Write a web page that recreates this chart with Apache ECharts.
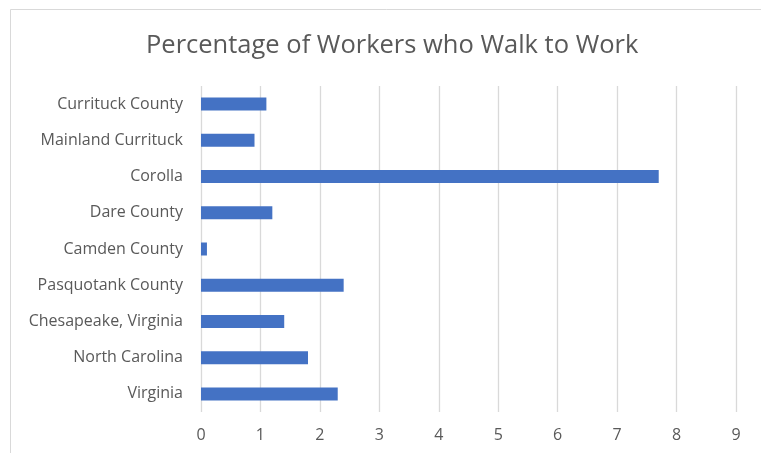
<!DOCTYPE html>
<html><head><meta charset="utf-8">
<script src="https://cdn.jsdelivr.net/npm/echarts@6/dist/echarts.min.js"></script>
<style>html,body{margin:0;padding:0;background:#fff}#c{width:761px;height:453px}</style>
</head><body><div id="c"></div>
<script>
const categories = ["Currituck County","Mainland Currituck","Corolla","Dare County","Camden County","Pasquotank County","Chesapeake, Virginia","North Carolina","Virginia"];
const values = [1.1, 0.9, 7.7, 1.2, 0.1, 2.4, 1.4, 1.8, 2.3];
const xTicks = [0,1,2,3,4,5,6,7,8,9];
const title = "Percentage of Workers who Walk to Work";

const chart = echarts.init(document.getElementById('c'), null, {renderer:'canvas'});
chart.setOption({
  backgroundColor:'#fff',
  animation:false,
  graphic:[{type:'rect',shape:{x:10.5,y:9.5,width:800,height:500},style:{fill:'none',stroke:'#d9d9d9',lineWidth:1}}],
  title:{text:title,left:141,top:28,textStyle:{fontFamily:'Open Sans',fontSize:25.5,fontWeight:'normal',color:'#595959'}},
  grid:{left:201,right:25,top:86,bottom:41,containLabel:false},
  xAxis:{type:'value',min:xTicks[0],max:xTicks[xTicks.length-1],interval:1,
    axisLine:{show:false},axisTick:{show:false},
    axisLabel:{color:'#595959',fontFamily:'Open Sans',fontSize:16,margin:15},
    splitLine:{show:true,lineStyle:{color:'#d9d9d9',width:1.3}}},
  yAxis:{type:'category',data:categories,inverse:true,
    axisLine:{show:false},axisTick:{show:false},
    axisLabel:{color:'#595959',fontFamily:'Open Sans',fontSize:16,margin:18}},
  series:[{type:'bar',data:values,barWidth:13,itemStyle:{color:'#4472C4'}}]
});
</script></body></html>
